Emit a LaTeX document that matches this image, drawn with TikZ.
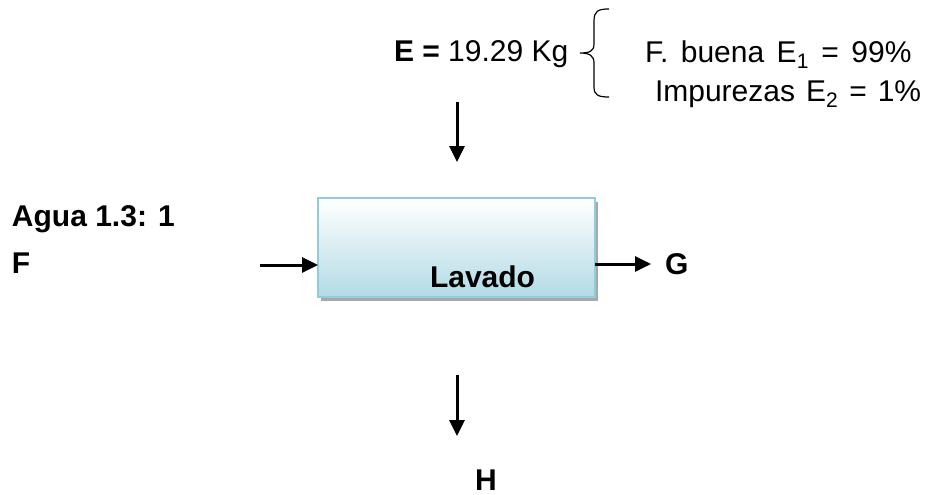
\documentclass[tikz,border=0pt]{standalone}
\usepackage{fontspec}
\setmainfont{Liberation Sans}
\usetikzlibrary{arrows.meta}
\definecolor{boxbot}{HTML}{B2DAE5}
\definecolor{boxline}{HTML}{92CCDA}
\definecolor{shadowc}{HTML}{A8A8A8}
\begin{document}
\begin{tikzpicture}[x=1pt,y=-1pt,
  every node/.style={font=\fontsize{30}{35}\selectfont, inner sep=0pt, outer sep=0pt},
  bold/.style={font=\fontsize{30}{35}\selectfont\bfseries},
  flow/.style={line width=3pt, -{Triangle[length=16pt,width=15pt]}},
  procbox/.style={draw=boxline, line width=1.6pt, top color=white, bottom color=boxbot,
    minimum width=277pt, minimum height=99pt}]
\useasboundingbox (0,0) rectangle (926,495);
% shadow and box
\fill[shadowc] (321,202) rectangle (598,301);
\node[procbox, anchor=north west] (lav) at (318,198) {};
\node[bold, anchor=base west] (lt) at (430,287) {Lavado};
% texts
\node[anchor=base west] (E) at (394,62) {{\bfseries E =} 19.29 Kg};
\node[anchor=base west] (e1) at (645,63) {\spaceskip=12.5pt F. buena E\textsubscript{1} = 99\%};
\node[anchor=base west] (e2) at (655,101) {\spaceskip=11pt Impurezas E\textsubscript{2} = 1\%};
\node[bold, anchor=base west] (agua) at (12,226) {Agua 1.3: 1};
\node[bold, anchor=base west] (F) at (12,273) {F};
\node[bold, anchor=base west] (G) at (665,274) {G};
\node[bold, anchor=base west] (H) at (475,490) {H};
% brace
\draw[line width=1.2pt] (609,9) .. controls (598,9) and (594,11) .. (594,21) -- (594,44)
  .. controls (594,51) and (590,53) .. (580,53)
  .. controls (590,53) and (594,56) .. (594,63) -- (594,87)
  .. controls (594,95) and (598,97) .. (609,97);
% arrows
\coordinate (tin1) at (457,102);
\coordinate (tin2) at (457,162);
\draw[flow] (tin1) -- (tin2);
\coordinate (fin) at (260,265);
\draw[flow] (fin) -- (lav.west |- fin);
\coordinate (gout) at (651,264);
\draw[flow] (lav.east |- gout) -- (gout);
\coordinate (hout1) at (457,375);
\coordinate (hout2) at (457,436);
\draw[flow] (hout1) -- (hout2);
\end{tikzpicture}
\end{document}
